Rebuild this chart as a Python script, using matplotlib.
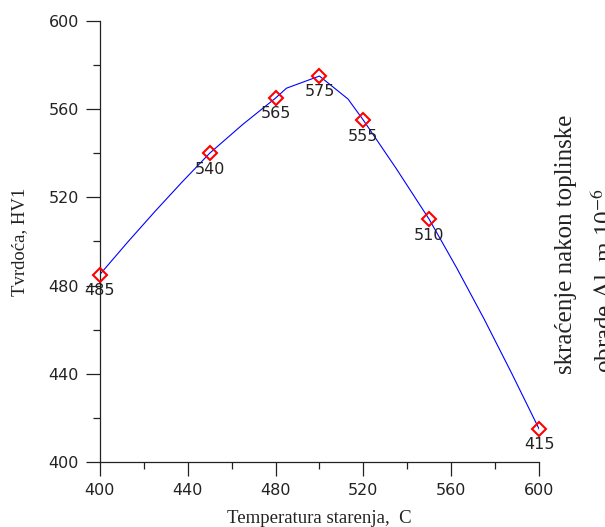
import numpy as np
import matplotlib
matplotlib.use("Agg")
import matplotlib.pyplot as plt
from matplotlib.ticker import MultipleLocator

plt.rcParams['font.family'] = ['DejaVu Sans']
plt.rcParams['mathtext.fontset'] = 'stix'

# measured points
temp = [400, 450, 480, 500, 520, 550, 600]
hardness = [485, 540, 565, 575, 555, 510, 415]
point_labels = ["485", "540", "565", "575", "555", "510", "415"]

# curve (smoothed line through the points)
curve_x = [400, 412.5, 425, 437.5, 450, 465, 480, 485, 500, 513, 520,
           535, 550, 562.5, 575, 587.5, 600]
curve_y = [485, 499.5, 513.5, 527, 540, 553, 565, 569.5, 575, 564.6, 555,
           533, 510, 488.0, 464.8, 440.3, 415]

fig = plt.figure(figsize=(6.05, 5.27), dpi=100)
ax = fig.add_axes([0.165, 0.1233, 0.726, 0.837])

ax.plot(curve_x, curve_y, color="blue", lw=0.8, zorder=2)
ax.plot(temp, hardness, ls="none", marker="D", markersize=7.5,
        markerfacecolor="none", markeredgecolor="red", markeredgewidth=1.5,
        zorder=3, clip_on=False)

for x, y, lab in zip(temp, hardness, point_labels):
    ax.annotate(lab, (x, y), xytext=(0, -6), textcoords="offset points",
                ha="center", va="top", fontsize=11.5, color="#222222")

ax.set_xlim(400, 600)
ax.set_ylim(400, 600)
ax.xaxis.set_major_locator(MultipleLocator(40))
ax.xaxis.set_minor_locator(MultipleLocator(20))
ax.yaxis.set_major_locator(MultipleLocator(40))
ax.yaxis.set_minor_locator(MultipleLocator(20))
ax.tick_params(which="major", direction="out", length=10, width=0.9,
               labelsize=11.5, pad=5, colors="#222222")
ax.tick_params(which="minor", direction="out", length=5, width=0.9,
               colors="#222222")

for s in ["top", "right"]:
    ax.spines[s].set_visible(False)
for s in ["left", "bottom"]:
    ax.spines[s].set_linewidth(0.9)
    ax.spines[s].set_color("#222222")

serif = ["Liberation Serif", "DejaVu Serif"]
ax.set_xlabel("Temperatura starenja,  C", family=serif, fontsize=13.5,
              labelpad=9, color="#222222")
ax.set_ylabel("Tvrdoća, HV1", family=serif, fontsize=13.5, labelpad=15,
              color="#222222")

fig.text(566 / 605, 1 - 244 / 527, "skraćenje nakon toplinske", family=serif,
         fontsize=18, rotation=90, ha="center", va="center", color="#222222")
fig.text(604 / 605, 1 - 280 / 527, r"obrade $\Delta$l, m 10$^{-6}$",
         family=serif, fontsize=18, rotation=90, ha="center", va="center",
         color="#222222")

fig.savefig("out.png", dpi=100)
